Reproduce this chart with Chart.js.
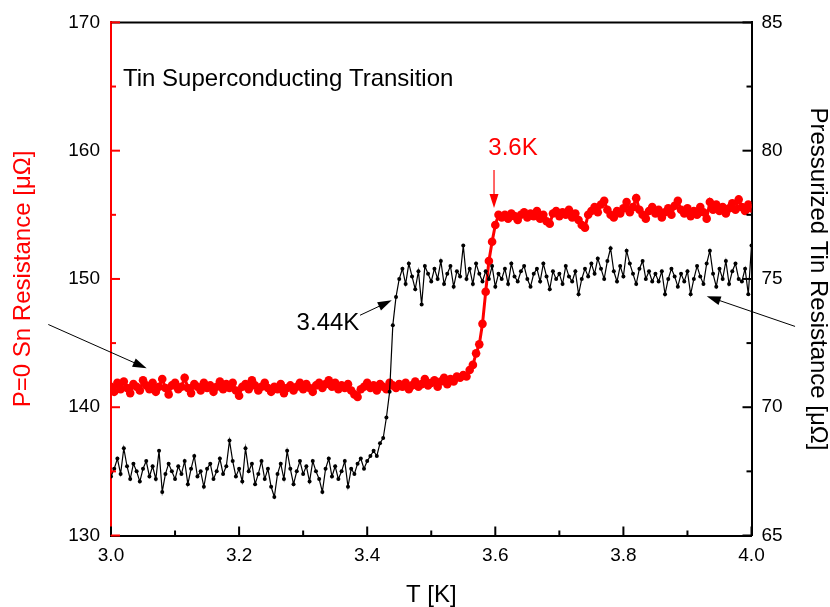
<!DOCTYPE html>
<html>
<head>
<meta charset="utf-8">
<script src="https://cdn.jsdelivr.net/npm/chart.js@4"></script>
<style>
  body { margin: 0; background: #fff; }
  canvas { display: block; }
</style>
</head>
<body>
<canvas id="chart" width="830" height="607"></canvas>
<script>
// Temperature grid [K]
const temps = [
  3.000, 3.005, 3.010, 3.015, 3.020, 3.025, 3.030, 3.035, 3.040, 3.045,
  3.050, 3.055, 3.060, 3.065, 3.070, 3.075, 3.080, 3.085, 3.090, 3.095,
  3.100, 3.105, 3.110, 3.115, 3.120, 3.125, 3.130, 3.135, 3.140, 3.145,
  3.150, 3.155, 3.160, 3.165, 3.170, 3.175, 3.180, 3.185, 3.190, 3.195,
  3.200, 3.205, 3.210, 3.215, 3.220, 3.225, 3.230, 3.235, 3.240, 3.245,
  3.250, 3.255, 3.260, 3.265, 3.270, 3.275, 3.280, 3.285, 3.290, 3.295,
  3.300, 3.305, 3.310, 3.315, 3.320, 3.325, 3.330, 3.335, 3.340, 3.345,
  3.350, 3.355, 3.360, 3.365, 3.370, 3.375, 3.380, 3.385, 3.390, 3.395,
  3.400, 3.405, 3.410, 3.415, 3.420, 3.425, 3.430, 3.435, 3.440, 3.445,
  3.450, 3.455, 3.460, 3.465, 3.470, 3.475, 3.480, 3.485, 3.490, 3.495,
  3.500, 3.505, 3.510, 3.515, 3.520, 3.525, 3.530, 3.535, 3.540, 3.545,
  3.550, 3.555, 3.560, 3.565, 3.570, 3.575, 3.580, 3.585, 3.590, 3.595,
  3.600, 3.605, 3.610, 3.615, 3.620, 3.625, 3.630, 3.635, 3.640, 3.645,
  3.650, 3.655, 3.660, 3.665, 3.670, 3.675, 3.680, 3.685, 3.690, 3.695,
  3.700, 3.705, 3.710, 3.715, 3.720, 3.725, 3.730, 3.735, 3.740, 3.745,
  3.750, 3.755, 3.760, 3.765, 3.770, 3.775, 3.780, 3.785, 3.790, 3.795,
  3.800, 3.805, 3.810, 3.815, 3.820, 3.825, 3.830, 3.835, 3.840, 3.845,
  3.850, 3.855, 3.860, 3.865, 3.870, 3.875, 3.880, 3.885, 3.890, 3.895,
  3.900, 3.905, 3.910, 3.915, 3.920, 3.925, 3.930, 3.935, 3.940, 3.945,
  3.950, 3.955, 3.960, 3.965, 3.970, 3.975, 3.980, 3.985, 3.990, 3.995,
  4.000
];

// P=0 Sn resistance [uOhm] (left axis)
const snResistance = [
  141.6, 141.2, 141.9, 141.4, 142.0, 141.5, 141.1, 141.8, 141.6, 141.3,
  142.1, 141.7, 141.4, 141.9, 141.2, 141.6, 142.2, 141.5, 141.0, 141.7,
  141.9, 141.4, 141.6, 142.3, 141.5, 141.1, 141.8, 141.6, 141.3, 141.9,
  141.5, 141.7, 141.2, 141.6, 142.0, 141.4, 141.8, 141.5, 141.9, 141.3,
  140.9, 141.6, 141.8, 141.4, 142.1, 141.7, 141.3, 141.6, 141.9, 141.5,
  141.2, 141.6, 141.4, 141.8, 141.1, 141.5, 141.7, 141.3, 141.6, 141.9,
  141.4, 141.8, 141.5, 141.2, 141.7, 141.9, 141.5, 141.8, 142.1, 141.6,
  141.9, 141.4, 141.7, 141.5, 141.8, 141.3, 141.0, 140.8, 141.4, 141.6,
  141.9, 141.5, 141.7, 141.3, 141.8, 141.6, 141.4, 141.9, 141.7, 141.5,
  141.8, 141.6, 141.9, 141.4, 141.7, 142.0, 141.6, 141.8, 142.2, 141.7,
  141.9, 142.1, 141.6, 142.0, 142.3, 141.8, 142.2, 142.0, 142.4, 142.3,
  142.5, 142.4, 142.9, 143.3, 144.2, 144.9, 146.5, 149.0, 151.4, 152.9,
  154.2, 155.0, 154.8, 155.0, 154.7, 155.1, 154.9, 154.6, 155.0, 155.2,
  154.8, 155.1, 154.9, 155.3, 154.7, 155.0, 154.5, 154.3, 155.1, 155.3,
  154.9, 155.2, 155.0, 155.4, 154.8, 155.1, 154.6, 154.2, 154.0, 155.0,
  155.3, 155.6, 155.2, 155.8, 156.1, 155.4, 155.0, 154.8, 155.3, 155.1,
  155.5, 156.0, 155.2, 155.6, 156.3, 155.4, 155.0, 154.7, 155.3, 155.6,
  155.1, 155.4, 154.8, 155.2, 155.5, 155.0, 155.7, 156.1, 155.4, 155.1,
  155.5, 154.9, 155.3, 155.0, 155.6, 155.2, 154.7, 156.0, 155.4, 155.8,
  155.3, 155.6, 155.1, 155.5, 155.9, 155.4, 156.2, 155.6, 155.3, 155.8,
  155.5
];

// Pressurized tin resistance [uOhm] (right axis)
const pressResistance = [
  67.3, 67.6, 68.0, 67.4, 68.4, 67.7, 67.2, 67.8, 67.5, 67.1,
  67.6, 67.9, 67.3, 67.7, 67.2, 68.3, 66.7, 67.4, 67.8, 67.5,
  67.2, 67.7, 67.4, 67.9, 67.0, 67.6, 68.1, 67.3, 67.5, 66.9,
  67.6, 67.8, 67.2, 67.5, 68.0, 67.4, 67.7, 68.7, 67.9, 67.3,
  67.6, 67.1, 68.4, 67.5, 67.8, 67.0, 67.4, 67.9, 67.2, 67.6,
  66.9, 66.5, 67.4, 67.8, 67.2, 68.3, 67.6, 67.0, 67.5, 67.9,
  67.4, 67.7, 67.1, 67.9, 67.5, 67.2, 66.7, 67.6, 68.0, 67.3,
  67.7, 67.2, 67.5, 67.9, 66.9, 67.6, 67.4, 67.8, 68.0, 67.6,
  67.9, 68.1, 68.3, 68.1, 68.6, 68.8, 69.6, 70.6, 73.2, 74.3,
  75.0, 75.4, 74.8, 75.6, 75.1, 74.6, 75.3, 74.0, 75.5, 75.2,
  74.9, 75.4, 75.0, 75.7, 74.8, 75.2, 75.5, 74.7, 75.3, 75.1,
  76.3, 75.0, 75.4, 74.8, 75.6, 75.2, 74.9, 75.3, 75.0, 75.5,
  74.7, 75.2, 75.0, 75.4, 74.8, 75.6, 75.1, 74.9, 75.3, 75.5,
  75.0, 74.7, 75.2, 75.4, 74.9, 75.6, 75.1, 74.6, 75.3, 75.0,
  75.2, 74.8, 75.5, 75.1, 74.9, 75.3, 74.4, 75.0, 75.4, 75.1,
  75.6, 75.2, 75.8, 75.4, 75.0, 75.7, 76.2, 75.3, 74.9, 75.5,
  75.1, 76.1, 75.6, 75.2, 74.8, 75.4, 75.7, 75.0, 75.3, 74.9,
  75.2, 74.9, 75.3, 74.4, 75.0, 75.4, 75.1, 74.7, 75.2, 74.9,
  75.3, 74.4, 75.0, 75.5, 75.1, 74.8, 75.6, 76.1, 75.2, 74.7,
  75.4, 75.0, 75.7, 74.8, 75.3, 75.6, 75.0, 74.9, 75.4, 74.4,
  76.3
];

// Axis ticks
const xTicks = [3.0, 3.2, 3.4, 3.6, 3.8, 4.0];
const xMinor = [3.1, 3.3, 3.5, 3.7, 3.9];
const leftTicks = [130, 140, 150, 160, 170];
const leftMinor = [135, 145, 155, 165];
const rightTicks = [65, 70, 75, 80, 85];
const rightMinor = [67.5, 72.5, 77.5, 82.5];

const RED = '#ff0000';
const FONT = '"Liberation Sans", Arial, sans-serif';

const toPoints = ys => temps.map((t, i) => ({ x: t, y: ys[i] }));

// Helper: line with filled arrow head at (x2, y2)
function drawArrow(ctx, x1, y1, x2, y2, color, width) {
    const ang = Math.atan2(y2 - y1, x2 - x1);
    const len = 14, half = 4.5;
    ctx.strokeStyle = color;
    ctx.fillStyle = color;
    ctx.lineWidth = width;
    ctx.beginPath();
    ctx.moveTo(x1, y1);
    ctx.lineTo(x2 - Math.cos(ang) * len * 0.8, y2 - Math.sin(ang) * len * 0.8);
    ctx.stroke();
    ctx.beginPath();
    ctx.moveTo(x2, y2);
    ctx.lineTo(x2 - Math.cos(ang) * len - Math.sin(ang) * half, y2 - Math.sin(ang) * len + Math.cos(ang) * half);
    ctx.lineTo(x2 - Math.cos(ang) * len + Math.sin(ang) * half, y2 - Math.sin(ang) * len - Math.cos(ang) * half);
    ctx.closePath();
    ctx.fill();
}

// Frame, inward ticks and annotations (positions in T / left-axis units)
const decorations = {
    id: 'decorations',
    afterDatasetsDraw(chart) {
        const { ctx, chartArea: a, scales } = chart;
        const x = scales.x, yL = scales.yL, yR = scales.yR;
        ctx.save();
        ctx.lineWidth = 2;

        // top frame line
        ctx.strokeStyle = '#000';
        ctx.beginPath();
        ctx.moveTo(a.left, a.top);
        ctx.lineTo(a.right, a.top);
        ctx.stroke();

        const tick = (x1, y1, x2, y2, color) => {
            ctx.strokeStyle = color;
            ctx.beginPath();
            ctx.moveTo(x1, y1);
            ctx.lineTo(x2, y2);
            ctx.stroke();
        };
        xTicks.forEach(v => { const p = x.getPixelForValue(v); tick(p, a.bottom, p, a.bottom - 9, '#000'); });
        xMinor.forEach(v => { const p = x.getPixelForValue(v); tick(p, a.bottom, p, a.bottom - 5, '#000'); });
        rightTicks.forEach(v => { const p = yR.getPixelForValue(v); tick(a.right, p, a.right - 9, p, '#000'); });
        rightMinor.forEach(v => { const p = yR.getPixelForValue(v); tick(a.right, p, a.right - 5, p, '#000'); });
        leftTicks.forEach(v => { const p = yL.getPixelForValue(v); tick(a.left, p, a.left + 9, p, RED); });
        leftMinor.forEach(v => { const p = yL.getPixelForValue(v); tick(a.left, p, a.left + 5, p, RED); });

        // text labels
        const px = t => x.getPixelForValue(t);
        const py = v => yL.getPixelForValue(v);
        ctx.font = '24px ' + FONT;
        ctx.textAlign = 'left';
        ctx.textBaseline = 'alphabetic';
        ctx.fillStyle = '#000';
        ctx.fillText('Tin Superconducting Transition', px(3.0187), py(165.07));
        ctx.fillText('3.44K', px(3.2898), py(146.01));
        ctx.fillStyle = RED;
        ctx.fillText('3.6K', px(3.5891), py(159.66));

        // arrows
        drawArrow(ctx, px(3.598), py(158.5), px(3.598), py(155.54), RED, 1.2);
        drawArrow(ctx, px(3.3888), py(147.17), px(3.4383), py(148.33), '#000', 1);
        drawArrow(ctx, px(2.9021), py(146.45), px(3.0557), py(143.04), '#000', 1);
        drawArrow(ctx, px(4.068), py(146.3), px(3.9301), py(148.66), '#000', 1);
        ctx.restore();
    }
};

const tickFont = { family: FONT, size: 19 };
const titleFont = { family: FONT, size: 24, lineHeight: 1 };

new Chart(document.getElementById('chart').getContext('2d'), {
    type: 'line',
    data: {
        datasets: [
            {
                label: 'Pressurized Tin',
                data: toPoints(pressResistance),
                yAxisID: 'yR',
                order: 0,
                borderColor: '#000',
                borderWidth: 1.2,
                pointRadius: 2,
                pointBorderWidth: 0,
                pointBackgroundColor: '#000',
                tension: 0
            },
            {
                label: 'P=0 Sn',
                data: toPoints(snResistance),
                yAxisID: 'yL',
                order: 1,
                borderColor: RED,
                borderWidth: 3,
                pointRadius: 4.3,
                pointBorderWidth: 0,
                pointBackgroundColor: RED,
                tension: 0
            }
        ]
    },
    options: {
        responsive: false,
        animation: false,
        layout: { padding: { top: 18, left: 0, right: 0, bottom: 0 } },
        plugins: { legend: { display: false }, tooltip: { enabled: false } },
        scales: {
            x: {
                type: 'linear',
                position: 'bottom',
                min: 3, max: 4,
                afterBuildTicks: s => { s.ticks = xTicks.map(v => ({ value: v })); },
                afterFit: s => { s.height = 71.5; },
                grid: { display: false, drawTicks: false },
                border: { display: true, color: '#000', width: 2 },
                ticks: { color: '#000', font: tickFont, padding: 9, maxRotation: 0, autoSkip: false,
                         callback: v => v.toFixed(1) },
                title: { display: true, text: 'T [K]', color: '#000', font: titleFont, padding: { top: 2, bottom: 0 } }
            },
            yL: {
                type: 'linear',
                position: 'left',
                min: 130, max: 170,
                afterBuildTicks: s => { s.ticks = leftTicks.map(v => ({ value: v })); },
                afterFit: s => { s.width = 111; },
                grid: { display: false, drawTicks: false },
                border: { display: true, color: RED, width: 2 },
                ticks: { color: '#000', font: tickFont, padding: 11 },
                title: { display: true, text: 'P=0 Sn Resistance [μΩ]', color: RED, font: titleFont, padding: { top: 11, bottom: 0 } }
            },
            yR: {
                type: 'linear',
                position: 'right',
                min: 65, max: 85,
                afterBuildTicks: s => { s.ticks = rightTicks.map(v => ({ value: v })); },
                afterFit: s => { s.width = 78.5; },
                grid: { display: false, drawTicks: false },
                border: { display: true, color: '#000', width: 2 },
                ticks: { color: '#000', font: tickFont, padding: 10 },
                title: { display: true, text: 'Pressurized Tin Resistance [μΩ]', color: '#000', font: titleFont, padding: { top: 0, bottom: 0 } }
            }
        }
    },
    plugins: [decorations]
});
</script>
</body>
</html>
